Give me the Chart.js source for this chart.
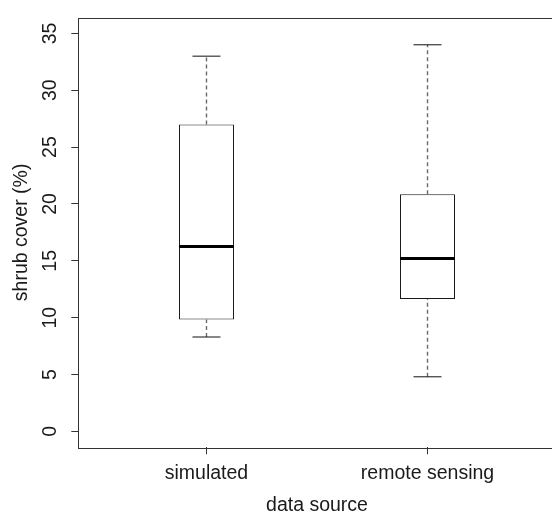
<!DOCTYPE html>
<html><head><meta charset="utf-8">
<script src="https://cdn.jsdelivr.net/npm/chart.js@4/dist/chart.umd.min.js"></script>
<style>html,body{margin:0;padding:0;overflow:hidden;background:#fff;width:552px;height:514px}canvas{display:block}</style>
</head><body>
<canvas id="c" width="560" height="520"></canvas>
<script>
const categories = ['simulated', 'remote sensing'];
const whiskerLow = [8.3, 4.8];
const q1 = [9.85, 11.65];
const median = [16.25, 15.2];
const q3 = [27.0, 20.85];
const whiskerHigh = [33.0, 34.0];
const yTicks = [0, 5, 10, 15, 20, 25, 30, 35];
const xTitle = 'data source';
const yTitle = 'shrub cover (%)';

const positions = categories.map((_, i) => i + 1);

const FONT = 'Liberation Sans, Arial, sans-serif';
Chart.defaults.font.family = FONT;
Chart.defaults.font.size = 19.5;
Chart.defaults.color = '#1a1a1a';

const boxData = positions.map((x, i) => ({x, y: [q1[i], q3[i]]}));
const medianData = positions.map((x, i) => ({x, y: median[i]}));
const capData = positions.flatMap((x, i) => [{x, y: whiskerLow[i]}, {x, y: whiskerHigh[i]}]);
const whiskerSets = positions.map((x, i) => ({
  type: 'scatter',
  data: [{x, y: q3[i]}, {x, y: whiskerHigh[i]}, {x, y: null}, {x, y: whiskerLow[i]}, {x, y: q1[i]}],
  showLine: true, spanGaps: false, pointRadius: 0, borderWidth: 1.4,
  borderColor: '#6a6a6a', borderDash: [4, 3], order: 2
}));

const framePlugin = {
  id: 'frame',
  afterDraw(chart) {
    const {ctx, chartArea: a} = chart;
    ctx.save();
    ctx.strokeStyle = '#333';
    ctx.lineWidth = 1;
    ctx.strokeRect(Math.round(a.left) + 0.5, Math.round(a.top) + 0.5,
                   Math.round(a.right - a.left), Math.round(a.bottom - a.top));
    ctx.restore();
  }
};

const zeroPad = s => { s.paddingLeft = 0; s.paddingRight = 0; s.paddingTop = 0; s.paddingBottom = 0; };

new Chart(document.getElementById('c'), {
  type: 'scatter',
  data: {
    datasets: [
      {type: 'bar', data: boxData, backgroundColor: '#ffffff', borderColor: '#1a1a1a',
       borderWidth: 1, borderSkipped: false, barThickness: 55, inflateAmount: 0, order: 3},
      ...whiskerSets,
      {type: 'scatter', data: capData, pointStyle: 'line', pointRadius: 14,
       pointBorderWidth: 1, borderColor: '#111', pointBorderColor: '#111', order: 1},
      {type: 'scatter', data: medianData, pointStyle: 'line', pointRadius: 27.5,
       pointBorderWidth: 3, borderColor: '#000', pointBorderColor: '#000', order: 0}
    ]
  },
  options: {
    responsive: false,
    animation: false,
    events: [],
    layout: {autoPadding: false, padding: {left: 0, top: 17.5, right: 4.3, bottom: 2.4}},
    plugins: {legend: {display: false}, tooltip: {enabled: false}},
    scales: {
      x: {
        type: 'linear', min: 0.42, max: 2.58, offset: false,
        afterBuildTicks: s => { s.ticks = positions.map(v => ({value: v})); },
        afterFit: s => { s.height = 70.3; zeroPad(s); },
        ticks: {callback: (v, i) => categories[i], padding: 7.2, font: {size: 19.5, lineHeight: 1.2}},
        grid: {display: true, offset: false, drawOnChartArea: false, drawTicks: true, tickLength: 7, tickColor: '#333', tickWidth: 1},
        border: {display: false},
        title: {display: true, text: xTitle, font: {size: 19.5, lineHeight: 1.2}, padding: {top: 9.3, bottom: 0}}
      },
      y: {
        type: 'linear', min: -1.4, max: 36.4, offset: false,
        afterBuildTicks: s => { s.ticks = yTicks.map(v => ({value: v})); },
        afterFit: s => { s.width = 78.3; zeroPad(s); },
        ticks: {minRotation: 90, maxRotation: 90, crossAlign: 'center', padding: 10.2, font: {size: 19.5, lineHeight: 1.2}},
        grid: {display: true, offset: false, drawOnChartArea: false, drawTicks: true, tickLength: 7, tickColor: '#333', tickWidth: 1},
        border: {display: false},
        title: {display: true, text: yTitle, font: {size: 19.5, lineHeight: 1.2}, padding: {top: 9.8, bottom: 4.5}}
      }
    }
  },
  plugins: [framePlugin]
});
</script>
</body></html>
